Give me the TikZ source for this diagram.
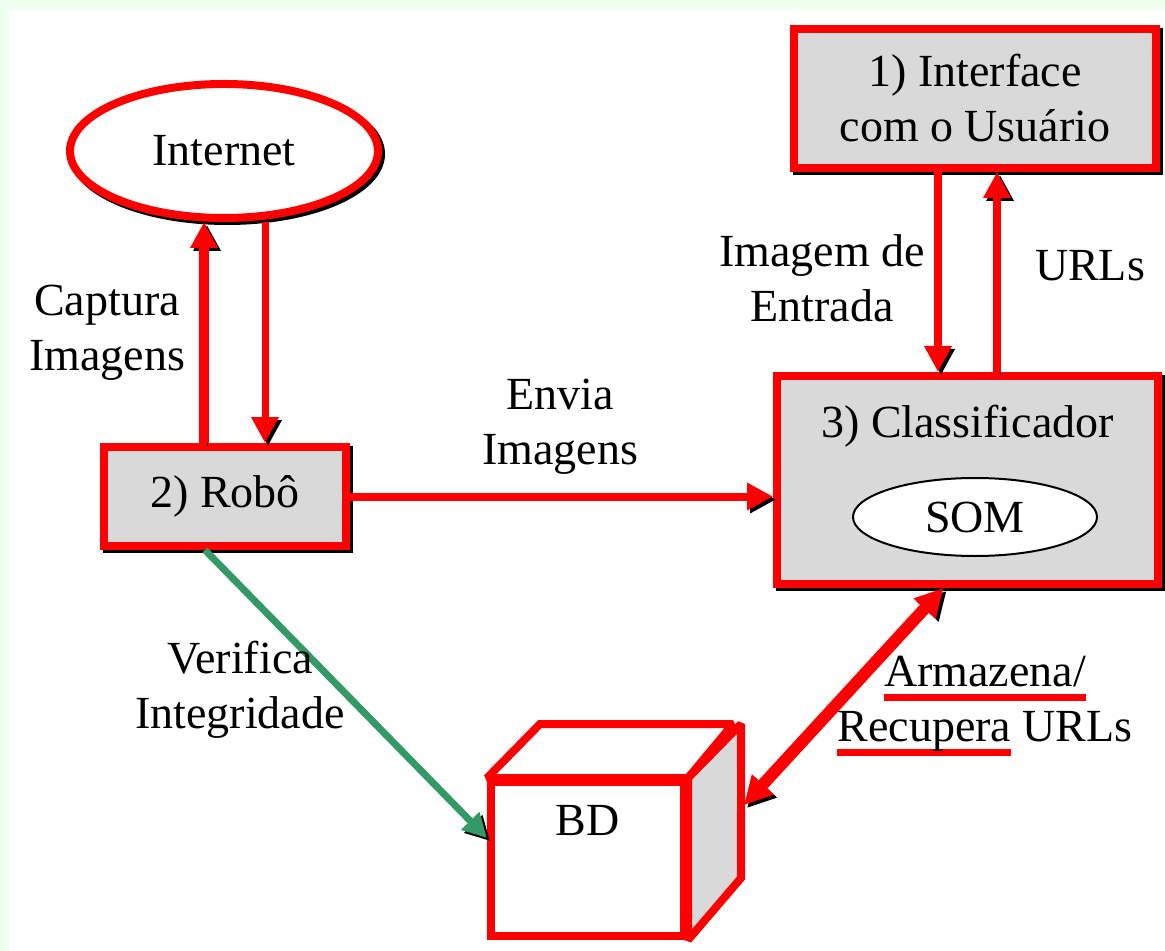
\documentclass[tikz,border=0pt]{standalone}
\usepackage{fontspec}
\setmainfont{Liberation Serif}
\usetikzlibrary{positioning,arrows.meta,shapes.geometric}
\definecolor{pagegreen}{HTML}{EEFFEE}
\definecolor{linered}{HTML}{FF0000}
\definecolor{boxgray}{HTML}{D9D9D9}
\definecolor{checkgreen}{HTML}{339966}
\newcommand{\redunder}[1]{\setbox0=\hbox{#1}\rlap{\color{linered}\rule[-7pt]{\wd0}{3.5pt}}\box0\relax}

\begin{document}
\begin{tikzpicture}[
      x=0.5pt, y=-0.5pt,
      every node/.style={font=\fontsize{23}{27.5}\selectfont, text=black, align=center},
      shadowed/.style={
        preaction={draw=black, transform canvas={shift={(1.5pt,-1.5pt)}}}
      },
      modbox/.style={
        rectangle,
        draw=linered, line width=4pt,
        fill=boxgray,
        shadowed
      },
      netoval/.style={
        ellipse,
        draw=linered, line width=4pt,
        fill=white,
        minimum width=154pt, minimum height=67pt,
        shadowed
      },
      somoval/.style={
        ellipse,
        draw=black, line width=1pt,
        fill=white,
        minimum width=122pt, minimum height=39pt
      },
      cubeface/.style={draw=linered, line width=4pt, line join=miter, miter limit=2},
      flow/.style={
        draw=linered, line width=4pt,
        -{Triangle[length=13pt,width=13pt]},
        shadowed
      },
      checkflow/.style={
        draw=checkgreen, line width=3.5pt,
        -{Triangle[length=12pt,width=12pt]},
        shadowed
      }
    ]
      \useasboundingbox (0,0) rectangle (1165,951);
      \fill[pagegreen] (0,0) rectangle (1165,951);
      \fill[white] (9,9) rectangle (1165,951);

      % blocos
      \node[netoval] (internet) at (224,151) {Internet};
      \node[modbox, minimum width=181pt, minimum height=69.5pt] (iface) at (975,98.5)
        {1) Interface\\com o Usuário};
      \node[modbox, minimum width=121pt, minimum height=49.5pt] (robo) at (225,496.5) {2) Robô};
      \node[modbox, minimum width=190.5pt, minimum height=104pt] (classif) at (967.5,480) {};
      \node[below=13pt of classif.north] (classtitle) {3) Classificador};
      \node[somoval] (som) at (975,517) {SOM};

      % cubo
      \node[cubeface, fill=white, minimum width=96.5pt, minimum height=77pt] (bd) at (587.5,859) {};
      \draw[cubeface, fill=white] (bd.north west) -- ++(53,-54) -- ++(193,0) -- (bd.north east) -- cycle;
      \draw[cubeface, fill=boxgray] (bd.north east) -- ++(53,-54) -- ++(0,154) -- (bd.south east) -- cycle;
      \node[below=10pt of bd.north] (bdtitle) {BD};

      % ligacoes
      \draw[flow, line width=5pt] ([xshift=-10.5pt]robo.north) -- ([xshift=-10pt]internet.south);
      \draw[flow, line width=3.5pt] ([xshift=20.5pt]internet.south) -- ([xshift=20pt]robo.north);
      \draw[flow] (robo.east) -- (robo.east -| classif.west);
      \draw[flow] ([xshift=-18.5pt]iface.south) -- ([xshift=-18.5pt]iface.south |- classif.north);
      \draw[flow] ([xshift=11pt]iface.south |- classif.north) -- ([xshift=11pt]iface.south);
      \draw[flow, line width=6pt, {Triangle[length=14pt,width=14pt]}-{Triangle[length=14pt,width=14pt]}]
        ([xshift=-12pt]classif.south) -- ([shift={(28pt,27pt)}]bd.east);
      \draw[checkflow] ([xshift=-10pt]robo.south) -- ([yshift=10.5pt]bd.west);

      % rotulos
      \node (capt) at (107,333) {Captura\\Imagens};
      \node (envia) at (560,427) {Envia\\Imagens};
      \node (imgin) at (822,278) {Imagem de\\Entrada};
      \node (urls) at (1090,266) {URLs};
      \node (verif) at (240,690) {Verifica\\Integridade};
      \node (armaz) at (985,706) {\redunder{Armazena/}\\\redunder{Recupera} URLs};
    \end{tikzpicture}
\end{document}
